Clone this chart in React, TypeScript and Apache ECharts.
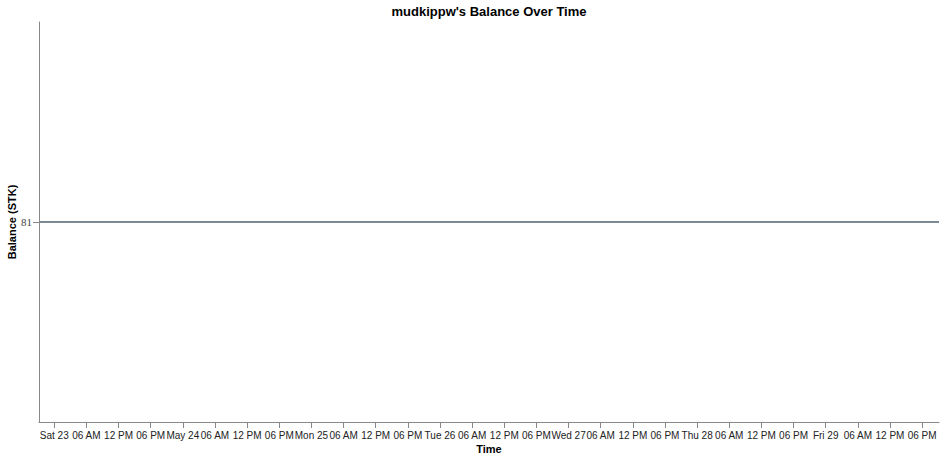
import * as echarts from 'echarts';
import { useEffect, useRef } from 'react';

const HOUR = 3600 * 1000;

// balance history (timestamp UTC, STK)
const balanceTimes = [Date.UTC(2020, 4, 22, 21, 9), Date.UTC(2020, 4, 29, 21, 9)];
const balanceValues = [81, 81];

// x ticks every 6 hours from Sat 23 00:00
const firstTick = Date.UTC(2020, 4, 23, 0, 0);
const xTickLabels = [
  'Sat 23', '06 AM', '12 PM', '06 PM',
  'May 24', '06 AM', '12 PM', '06 PM',
  'Mon 25', '06 AM', '12 PM', '06 PM',
  'Tue 26', '06 AM', '12 PM', '06 PM',
  'Wed 27', '06 AM', '12 PM', '06 PM',
  'Thu 28', '06 AM', '12 PM', '06 PM',
  'Fri 29', '06 AM', '12 PM', '06 PM',
];
const yTicks = [81];

export default function App() {
  const chartRef = useRef<HTMLDivElement>(null);

  useEffect(() => {
    if (!chartRef.current) return;
    const chart = echarts.init(chartRef.current, undefined, { renderer: 'svg' });

    const xTickValues = xTickLabels.map((_, i) => firstTick + i * 6 * HOUR);

    chart.setOption({
      animation: false,
      title: {
        text: "mudkippw's Balance Over Time",
        left: 484,
        top: 0,
        textAlign: 'center',
        textStyle: {
          fontFamily: 'Liberation Sans',
          fontSize: 13,
          fontWeight: 'bold',
          color: '#000',
        },
      },
      grid: {
        left: 39,
        right: 7,
        top: 22,
        bottom: 37,
        containLabel: false,
        outerBoundsMode: 'none',
      },
      xAxis: {
        type: 'value',
        min: balanceTimes[0],
        max: balanceTimes[balanceTimes.length - 1],
        name: 'Time',
        nameLocation: 'middle',
        nameGap: 21,
        nameMoveOverlap: false,
        nameTextStyle: {
          fontFamily: 'Liberation Sans',
          fontSize: 11,
          fontWeight: 'bold',
          color: '#000',
        },
        axisLine: { lineStyle: { color: '#888', width: 1 } },
        axisTick: {
          customValues: xTickValues,
          length: 6,
          lineStyle: { color: '#888' },
        },
        axisLabel: {
          customValues: xTickValues,
          margin: 8,
          fontFamily: 'Liberation Sans',
          fontSize: 10,
          color: '#222',
          formatter: (v: number) => xTickLabels[Math.round((v - firstTick) / (6 * HOUR))] ?? '',
        },
        splitLine: { show: false },
      },
      yAxis: {
        type: 'value',
        min: 80,
        max: 82,
        name: 'Balance (STK)',
        nameLocation: 'middle',
        nameGap: 22,
        nameMoveOverlap: false,
        nameTextStyle: {
          fontFamily: 'Liberation Sans',
          fontSize: 11,
          fontWeight: 'bold',
          color: '#000',
        },
        axisLine: { show: true, lineStyle: { color: '#888', width: 1 } },
        axisTick: {
          show: true,
          customValues: yTicks,
          length: 6,
          lineStyle: { color: '#888' },
        },
        axisLabel: {
          customValues: yTicks,
          margin: 7,
          fontFamily: 'Liberation Serif',
          fontSize: 11,
          color: '#444',
        },
        splitLine: { show: false },
      },
      series: [
        {
          name: 'Balance',
          type: 'line',
          data: balanceTimes.map((t, i) => [t, balanceValues[i]]),
          showSymbol: false,
          lineStyle: { color: '#7d8895', width: 2 },
        },
      ],
    });

    return () => chart.dispose();
  }, []);

  return (
    <div
      ref={chartRef}
      style={{ position: 'fixed', left: 0, top: 0, width: 946, height: 459, background: '#fff' }}
    />
  );
}
